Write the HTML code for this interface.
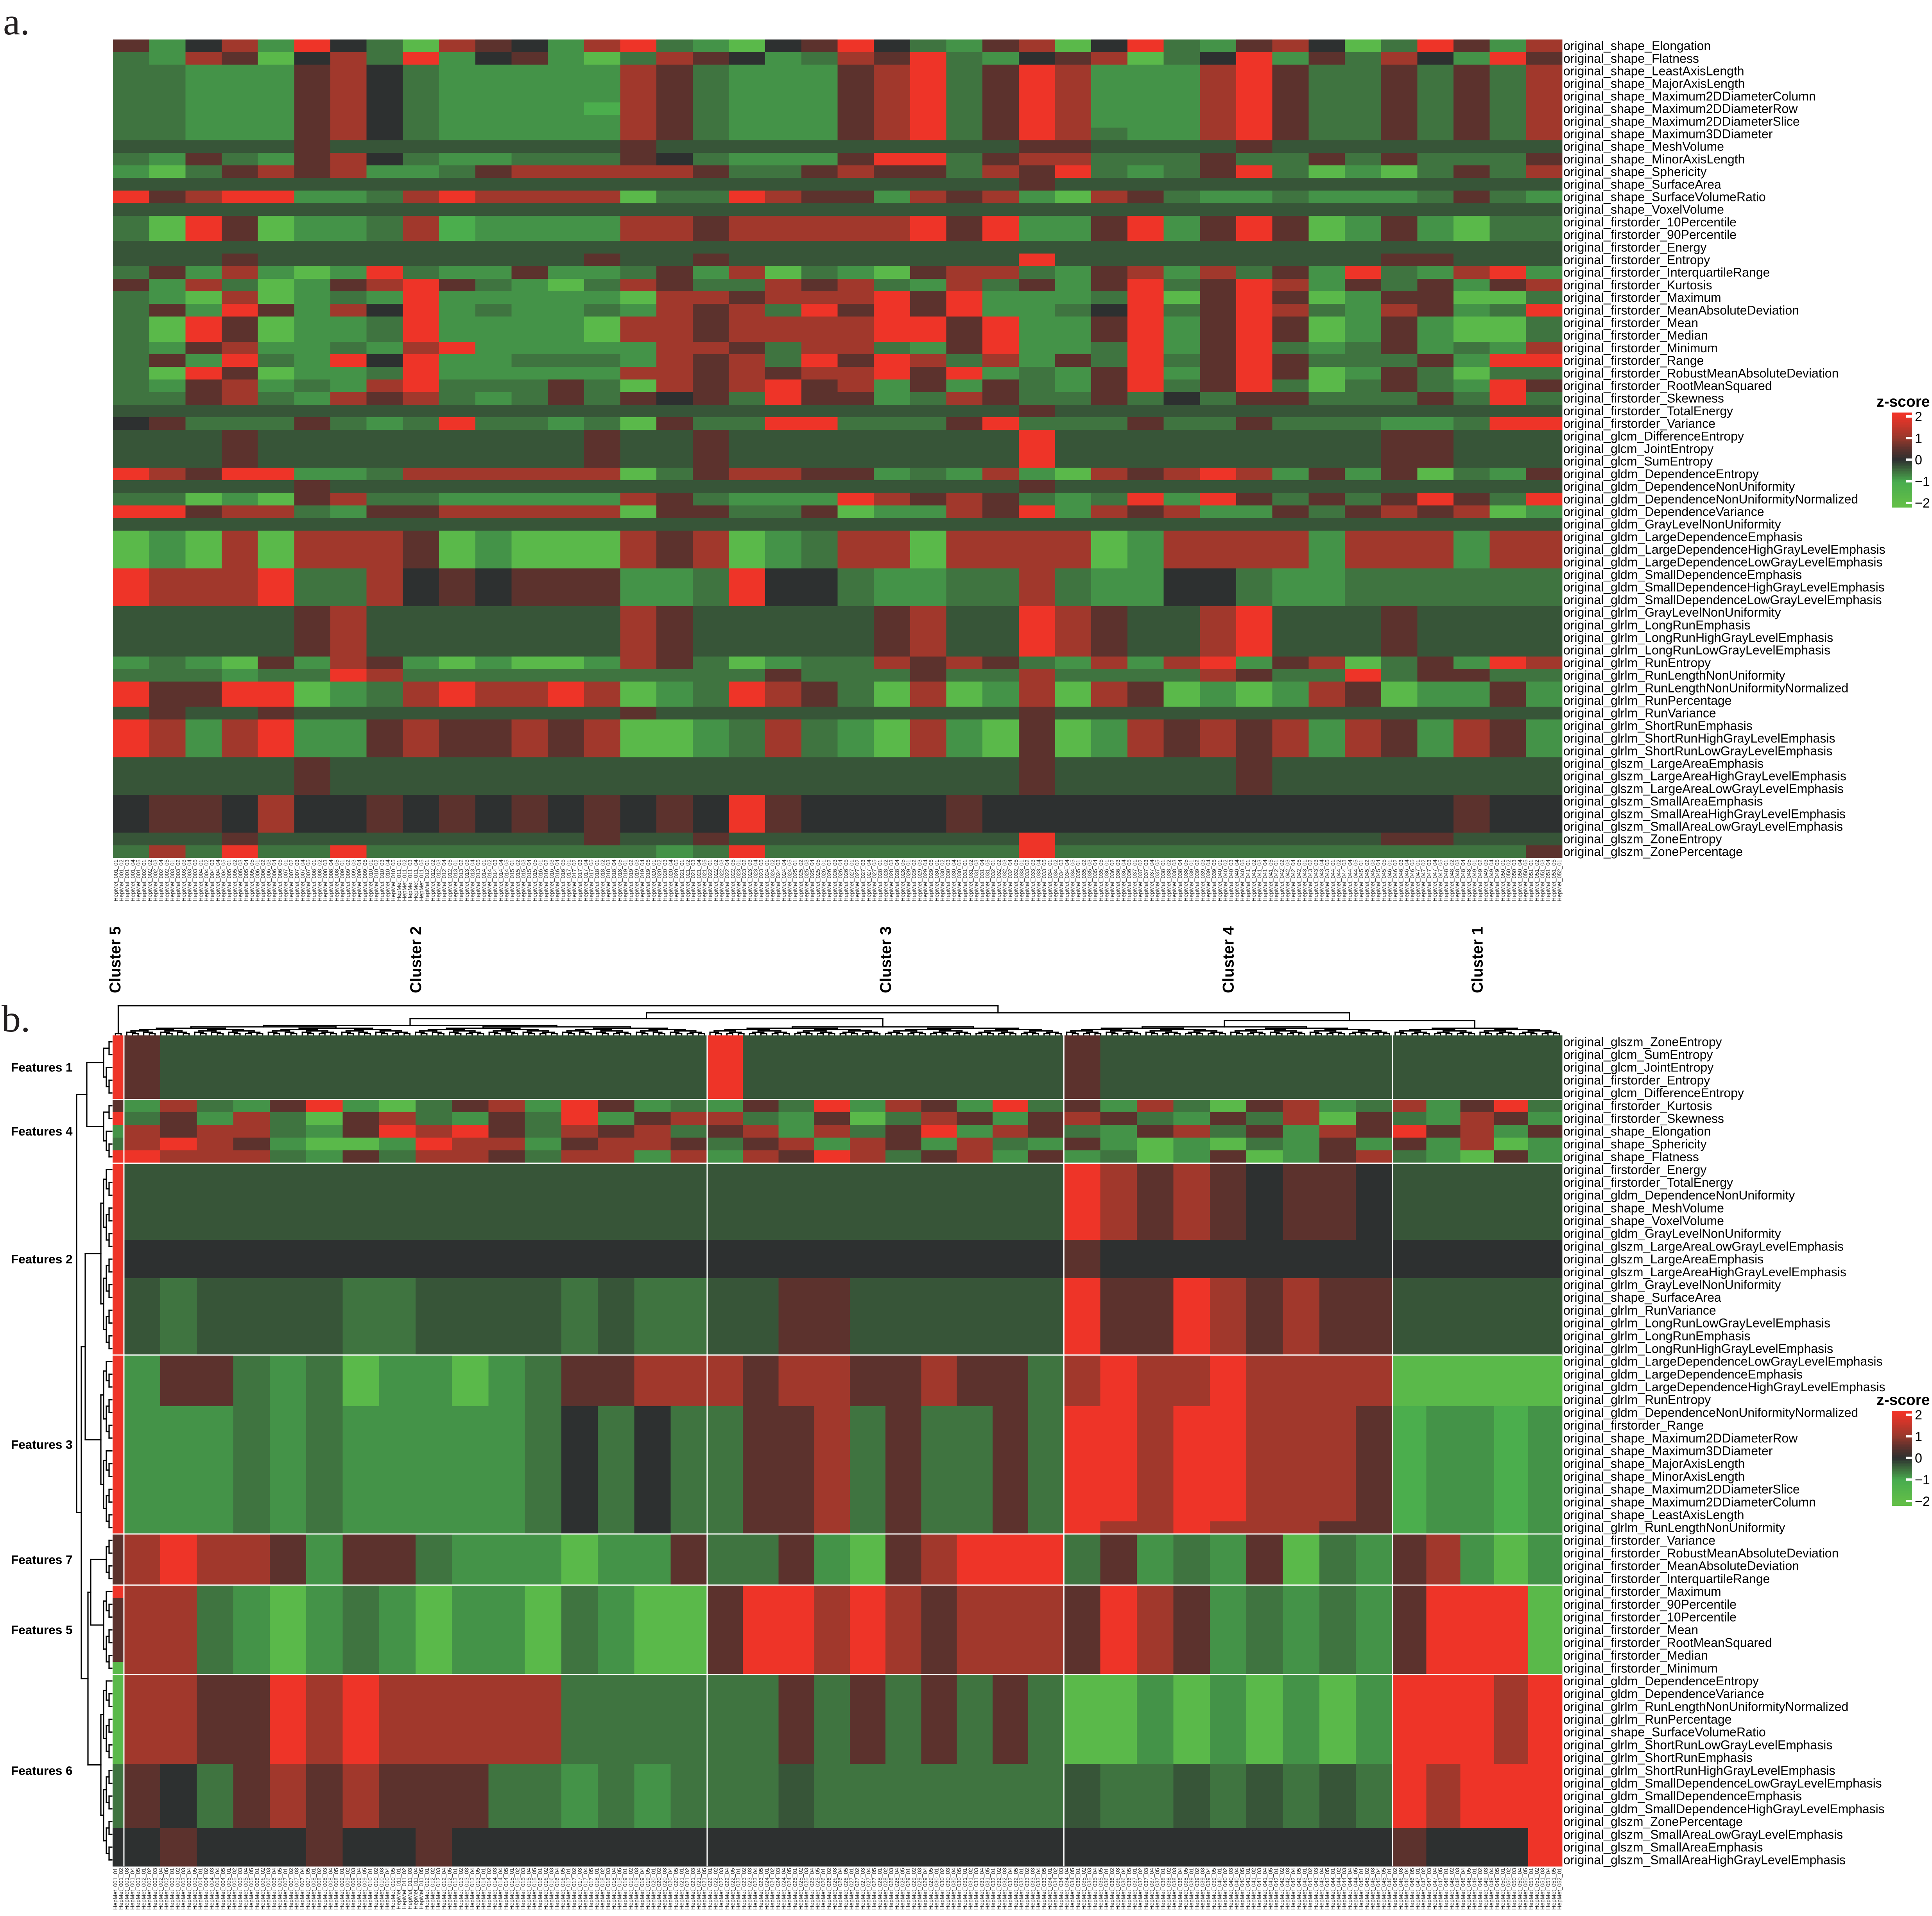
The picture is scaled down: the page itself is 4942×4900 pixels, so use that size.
<!DOCTYPE html>
<html><head><meta charset="utf-8"><title>Radiomic feature heatmaps</title>
<style>
html,body{margin:0;padding:0;background:#fff;}
svg{display:block;}
text{font-family:"Liberation Sans",sans-serif;}
</style></head>
<body>
<svg id="fig" xmlns="http://www.w3.org/2000/svg" width="4942" height="4900" viewBox="0 0 4942 4900">
<rect x="0" y="0" width="4942" height="4900" fill="#ffffff"/>
<text x="8" y="88" font-size="98" fill="#231f20" style="font-family:'Liberation Serif',serif">a.</text>
<text x="4" y="2638" font-size="98" fill="#231f20" style="font-family:'Liberation Serif',serif">b.</text>
<g id="heatA"></g>
<g id="labelsA"></g>
<g id="colLabA"></g>
<g id="clusterLab"></g>
<g id="dendCol"></g>
<g id="dendRow"></g>
<g id="heatB"></g>
<g id="labelsB"></g>
<g id="colLabB"></g>
<g id="featLab"></g>
<g id="legendA"></g>
<g id="legendB"></g>
</svg>
<script>
// ---------- data ----------
const valueCodes = "GgmhedkrR";
const valueLevels = [-1.7, -0.8, -1.1, -0.55, -0.3, 0, 0.5, 1.1, 2];
const legendTicks = [2, 1, 0, -1, -2];
const legendTickLabels = ["2", "1", "0", "\u22121", "\u22122"];

const rowLabelsA = ["original_shape_Elongation","original_shape_Flatness","original_shape_LeastAxisLength","original_shape_MajorAxisLength","original_shape_Maximum2DDiameterColumn","original_shape_Maximum2DDiameterRow","original_shape_Maximum2DDiameterSlice","original_shape_Maximum3DDiameter","original_shape_MeshVolume","original_shape_MinorAxisLength","original_shape_Sphericity","original_shape_SurfaceArea","original_shape_SurfaceVolumeRatio","original_shape_VoxelVolume","original_firstorder_10Percentile","original_firstorder_90Percentile","original_firstorder_Energy","original_firstorder_Entropy","original_firstorder_InterquartileRange","original_firstorder_Kurtosis","original_firstorder_Maximum","original_firstorder_MeanAbsoluteDeviation","original_firstorder_Mean","original_firstorder_Median","original_firstorder_Minimum","original_firstorder_Range","original_firstorder_RobustMeanAbsoluteDeviation","original_firstorder_RootMeanSquared","original_firstorder_Skewness","original_firstorder_TotalEnergy","original_firstorder_Variance","original_glcm_DifferenceEntropy","original_glcm_JointEntropy","original_glcm_SumEntropy","original_gldm_DependenceEntropy","original_gldm_DependenceNonUniformity","original_gldm_DependenceNonUniformityNormalized","original_gldm_DependenceVariance","original_gldm_GrayLevelNonUniformity","original_gldm_LargeDependenceEmphasis","original_gldm_LargeDependenceHighGrayLevelEmphasis","original_gldm_LargeDependenceLowGrayLevelEmphasis","original_gldm_SmallDependenceEmphasis","original_gldm_SmallDependenceHighGrayLevelEmphasis","original_gldm_SmallDependenceLowGrayLevelEmphasis","original_glrlm_GrayLevelNonUniformity","original_glrlm_LongRunEmphasis","original_glrlm_LongRunHighGrayLevelEmphasis","original_glrlm_LongRunLowGrayLevelEmphasis","original_glrlm_RunEntropy","original_glrlm_RunLengthNonUniformity","original_glrlm_RunLengthNonUniformityNormalized","original_glrlm_RunPercentage","original_glrlm_RunVariance","original_glrlm_ShortRunEmphasis","original_glrlm_ShortRunHighGrayLevelEmphasis","original_glrlm_ShortRunLowGrayLevelEmphasis","original_glszm_LargeAreaEmphasis","original_glszm_LargeAreaHighGrayLevelEmphasis","original_glszm_LargeAreaLowGrayLevelEmphasis","original_glszm_SmallAreaEmphasis","original_glszm_SmallAreaHighGrayLevelEmphasis","original_glszm_SmallAreaLowGrayLevelEmphasis","original_glszm_ZoneEntropy","original_glszm_ZonePercentage"];

const heatA = [
"kgdrgRdhGr kdgrRhgGdk RdhgkrGdRh gkrdGhRkgr",
"hgrkGdrhRg dkgGhrkdgh rkRhgdkrGh dRgkhrdgRk",
"hhgggkrdhg ggggrkhggg krRhkRrggg rRkhhkhkhr",
"hhgggkrdhg ggggrkhggg krRhkRrggg rRkhhkhkhr",
"hhgggkrdhg ggggrkhggg krRhkRrggg rRkhhkhkhr",
"hhgggkrdhg gggmrkhggg krRhkRrggg rRkhhkhkhr",
"hhgggkrdhg ggggrkhggg krRhkRrggg rRkhhkhkhr",
"hhgggkrdhg ggggrkhggg krRhkRrhgg rRkhhkhkhr",
"eeeeekeeee eeeekeeeee eeeeekkeee ekeeeeeeee",
"hgkhgkrdhg ghhhkdhggg kRRhkrrhhh khhkhkhhhk",
"gGhkrkrggh krrrrrkhhk rkkhrkRhgh kRhGgGhkhr",
"eeeeeeeeee eeeeeeeeee eeeeekeeee eeeeeeeeee",
"RkrRRgghrR rrrrGhhRrk kgrkrgGrkh gghggghkhg",
"eeeeeeeeee eeeeeeeeee eeeeeeeeee eeeeeeeeee",
"hGRkGgghrm ggggrrkrrr rrRkRggkRg kRkGgkgGhh",
"hGRkGgghrm ggggrrkrrr rrRkRggkRg kRkGgkgGhh",
"eeeeeeeeee eeeeeeeeee eeeeeeeeee eeeeeeeeee",
"eeekeeeeee eeekeekeee eeeeeReeee eeeeekkeee",
"hkgrgGgRhg gkgghkgrGh gGkrrhgkrg rhkgRhgrRg",
"kgrhGgkrRk hgGhrkhhrk rhgrhkgkRh kRrgkhkgkr",
"hgGrGghgRg ggggGrrkrr rRkRggghRG kRkGgkkGGh",
"hkgRkgrdRg hgghgrkrhR kRkRgghdRh kRrhgrkghR",
"hGRkGgghRg gggGrrkrrr rRRkRggkRg kRkGgkgGGh",
"hGRkGgghRg gggGrrkrrr rRRkRggkRg kRkGgkgGGh",
"hgkrgghgrR gggggrrkhr rhgkRgghRg kRhghkghgr",
"hkgRhgRdRg ghhhgrkrhR kRrhrgkhRh kRkhhhkgRR",
"hGRkGgghRg ggggrrkrkr rRkRghgkRg kRkGgkhGhh",
"hgkrghgrRh hhkhGrkrRk rgkgkhgkRh kRhGhkhgRk",
"hhkrhgrkrh ghkhkdkhRk kghrkhhkhd hkkhhhkhRh",
"eeeeeeeeee eeeeeeeeee eeeeekeeee eeeeeeeeee",
"dkhhhkhghR hhghGkhhRR hhhkRhhhkh hkhhhgghRR",
"eeekeeeeee eeekeekeee eeeeeReeee eeeeekkeee",
"eeekeeeeee eeekeekeee eeeeeReeee eeeeekkeee",
"eeekeeeeee eeekeekeee eeeeeReeee eeeeekkeee",
"RrkRRgghrr rrrrGhkrrk kghgrgGrkr RrgkgkGhgk",
"eeeeekeeee eeeeeeeeee eeeeekeeee eeeeeeeeee",
"hhGgGkrhhg ggggrkhggg RrkrkhghRg RkhkhkRkhR",
"RRkrrhgkkr rrrrGkkhhk GggrkRgrkr ggkhkrkrGg",
"eeeeeeeeee eeeeeeeeee eeeeeeeeee eeeeeeeeee",
"GgGrGrrrkG gGGGrkrGgh rrGrrrrGgr rrrgrrrgrr",
"GgGrGrrrkG gGGGrkrGgh rrGrrrrGgr rrrgrrrgrr",
"GgGrGrrrkG gGGGrkrGgh rrGrrrrGgr rrrgrrrgrr",
"RrrrRhhrdk dkkkgghRdd hgghhrhggd dhgghhhhhh",
"RrrrRhhrdk dkkkgghRdd hgghhrhggd dhgghhhhhh",
"RrrrRhhrdk dkkkgghRdd hgghhrhggd dhgghhhhhh",
"eeeeekreee eeeerkeeee ekreeRrkee rReeekeeee",
"eeeeekreee eeeerkeeee ekreeRrkee rReeekeeee",
"eeeeekreee eeeerkeeee ekreeRrkee rReeekeeee",
"eeeeekreee eeeerkeeee ekreeRrkee rReeekeeee",
"ghgGkgrkgG gGGgrkhGgh hrkrkhgrgr RgkrGhkgRr",
"hhhghhRrhh hhhhhhhhkh hhkhhrhhhh rkhhRhkkhh",
"RkkRRGghrR rrRrGghRrk hGrGgrGrkG gGgrkGggkg",
"RkkRRGghrR rrRrGghRrk hGrGgrGrkG gGgrkGggkg",
"ekeekeeeee eeeekeeeee eeeeekeeee eeeeeeeeee",
"RrgrRggkrk krkrGGghrh gGrgGkGgrk rkrgrkgrkg",
"RrgrRggkrk krkrGGghrh gGrgGkGgrk rkrgrkgrkg",
"RrgrRggkrk krkrGGghrh gGrgGkGgrk rkrgrkgrkg",
"eeeeekeeee eeeeeeeeee eeeeekeeee ekeeeeeeee",
"eeeeekeeee eeeeeeeeee eeeeekeeee ekeeeeeeee",
"eeeeekeeee eeeeeeeeee eeeeekeeee ekeeeeeeee",
"dkkdrddkdk dkdkdkdRkd dddkdddddd dddddddkdd",
"dkkdrddkdk dkdkdkdRkd dddkdddddd dddddddkdd",
"dkkdrddkdk dkdkdkdRkd dddkdddddd dddddddkdd",
"eeekeeeeee eeekeekeee eeeeeReeee eeeeekkeee",
"hrhRhhRhhh hhhhhghRhh hhhhhRhhhh hhhhhhhhhk"
];

const rowLabelsB = ["original_glszm_ZoneEntropy","original_glcm_SumEntropy","original_glcm_JointEntropy","original_firstorder_Entropy","original_glcm_DifferenceEntropy","original_firstorder_Kurtosis","original_firstorder_Skewness","original_shape_Elongation","original_shape_Sphericity","original_shape_Flatness","original_firstorder_Energy","original_firstorder_TotalEnergy","original_gldm_DependenceNonUniformity","original_shape_MeshVolume","original_shape_VoxelVolume","original_gldm_GrayLevelNonUniformity","original_glszm_LargeAreaLowGrayLevelEmphasis","original_glszm_LargeAreaEmphasis","original_glszm_LargeAreaHighGrayLevelEmphasis","original_glrlm_GrayLevelNonUniformity","original_shape_SurfaceArea","original_glrlm_RunVariance","original_glrlm_LongRunLowGrayLevelEmphasis","original_glrlm_LongRunEmphasis","original_glrlm_LongRunHighGrayLevelEmphasis","original_gldm_LargeDependenceLowGrayLevelEmphasis","original_gldm_LargeDependenceEmphasis","original_gldm_LargeDependenceHighGrayLevelEmphasis","original_glrlm_RunEntropy","original_gldm_DependenceNonUniformityNormalized","original_firstorder_Range","original_shape_Maximum2DDiameterRow","original_shape_Maximum3DDiameter","original_shape_MajorAxisLength","original_shape_MinorAxisLength","original_shape_Maximum2DDiameterSlice","original_shape_Maximum2DDiameterColumn","original_shape_LeastAxisLength","original_glrlm_RunLengthNonUniformity","original_firstorder_Variance","original_firstorder_RobustMeanAbsoluteDeviation","original_firstorder_MeanAbsoluteDeviation","original_firstorder_InterquartileRange","original_firstorder_Maximum","original_firstorder_90Percentile","original_firstorder_10Percentile","original_firstorder_Mean","original_firstorder_RootMeanSquared","original_firstorder_Median","original_firstorder_Minimum","original_gldm_DependenceEntropy","original_gldm_DependenceVariance","original_glrlm_RunLengthNonUniformityNormalized","original_glrlm_RunPercentage","original_shape_SurfaceVolumeRatio","original_glrlm_ShortRunLowGrayLevelEmphasis","original_glrlm_ShortRunEmphasis","original_glrlm_ShortRunHighGrayLevelEmphasis","original_gldm_SmallDependenceLowGrayLevelEmphasis","original_gldm_SmallDependenceEmphasis","original_gldm_SmallDependenceHighGrayLevelEmphasis","original_glszm_ZonePercentage","original_glszm_SmallAreaLowGrayLevelEmphasis","original_glszm_SmallAreaEmphasis","original_glszm_SmallAreaHighGrayLevelEmphasis"];

const clusterNames = ["Cluster 5","Cluster 2","Cluster 3","Cluster 4","Cluster 1"];
const clusterSamples = [2, 103, 63, 58, 30];
const clusterSegments = [1, 16, 10, 9, 5];
const featureGroupNames = ["Features 1","Features 4","Features 2","Features 3","Features 7","Features 5","Features 6"];
const featureGroupSizes = [5, 5, 15, 14, 4, 7, 15];

const heatB = [
"R keeeeeeeeeeeeeee Reeeeeeeee keeeeeeee eeeee",
"R keeeeeeeeeeeeeee Reeeeeeeee keeeeeeee eeeee",
"R keeeeeeeeeeeeeee Reeeeeeeee keeeeeeee eeeee",
"R keeeeeeeeeeeeeee Reeeeeeeee keeeeeeee eeeee",
"R keeeeeeeeeeeeeee Reeeeeeeee keeeeeeee eeeee",
"k grhgkRgGhkrgRkgh gkhRgrkgRh kgrhGkrgh rgkRh",
"R hkgrhGkrhgkhRgkr rhgkGhrkgk rkhgkhrGk hgrkg",
"g rkrrhgkRrRkhrkrh krgrhkRgrk hgkrhkgrk Rkrgk",
"h rRrkgGGgRrrgkrrk hkrgrkgrhg kgGgGhgkg kgrGg",
"R Rrrrhgkhrrkhrrgr grkRrhkrgk ghGgkGgkr hgGkg",
"R eeeeeeeeeeeeeeee eeeeeeeeee Rrkrkdkkd eeeee",
"R eeeeeeeeeeeeeeee eeeeeeeeee Rrkrkdkkd eeeee",
"R eeeeeeeeeeeeeeee eeeeeeeeee Rrkrkdkkd eeeee",
"R eeeeeeeeeeeeeeee eeeeeeeeee Rrkrkdkkd eeeee",
"R eeeeeeeeeeeeeeee eeeeeeeeee Rrkrkdkkd eeeee",
"R eeeeeeeeeeeeeeee eeeeeeeeee Rrkrkdkkd eeeee",
"R dddddddddddddddd dddddddddd kdddddddd ddddd",
"R dddddddddddddddd dddddddddd kdddddddd ddddd",
"R dddddddddddddddd dddddddddd kdddddddd ddddd",
"R eheeeehheeeehehh eekkeeeeee RkkRrkrkk eeeee",
"R eheeeehheeeehehh eekkeeeeee RkkRrkrkk eeeee",
"R eheeeehheeeehehh eekkeeeeee RkkRrkrkk eeeee",
"R eheeeehheeeehehh eekkeeeeee RkkRrkrkk eeeee",
"R eheeeehheeeehehh eekkeeeeee RkkRrkrkk eeeee",
"R eheeeehheeeehehh eekkeeeeee RkkRrkrkk eeeee",
"R gkkhghGggGghkkrr rkrrkkrkkh rRrrRrrrr GGGGG",
"R gkkhghGggGghkkrr rkrrkkrkkh rRrrRrrrr GGGGG",
"R gkkhghGggGghkkrr rkrrkkrkkh rRrrRrrrr GGGGG",
"R gkkhghGggGghkkrr rkrrkkrkkh rRrrRrrrr GGGGG",
"R ggghghggggghdhdh hkkrhkhhkh RRrRRrrrk mggmg",
"R ggghghggggghdhdh hkkrhkhhkh RRrRRrrrk mggmg",
"R ggghghggggghdhdh hkkrhkhhkh RRrRRrrrk mggmg",
"R ggghghggggghdhdh hkkrhkhhkh RRrRRrrrk mggmg",
"R ggghghggggghdhdh hkkrhkhhkh RRrRRrrrk mggmg",
"R ggghghggggghdhdh hkkrhkhhkh RRrRRrrrk mggmg",
"R ggghghggggghdhdh hkkrhkhhkh RRrRRrrrk mggmg",
"R ggghghggggghdhdh hkkrhkhhkh RRrRRrrrk mggmg",
"R ggghghggggghdhdh hkkrhkhhkh RRrRRrrrk mggmg",
"R ggghghggggghdhdh hkkrhkhhkh RrrRrrrkk mggmg",
"k rRrrkgkkhgggGggk hhkgGkrRRR hkghgkGhg krgGg",
"k rRrrkgkkhgggGggk hhkgGkrRRR hkghgkGhg krgGg",
"k rRrrkgkkhgggGggk hhkgGkrRRR hkghgkGhg krgGg",
"k rRrrkgkkhgggGggk hhkgGkrRRR hkghgkGhg krgGg",
"R rrhgGghgGggGhgGG kRRrRrkrrr kRrkghghg kRRRG",
"k rrhgGghgGggGhgGG kRRrRrkrrr kRrkghghg kRRRG",
"k rrhgGghgGggGhgGG kRRrRrkrrr kRrkghghg kRRRG",
"k rrhgGghgGggGhgGG kRRrRrkrrr kRrkghghg kRRRG",
"k rrhgGghgGggGhgGG kRRrRrkrrr kRrkghghg kRRRG",
"k rrhgGghgGggGhgGG kRRrRrkrrr kRrkghghg kRRRG",
"G rrhgGghgGggGhgGG kRRrRrkrrr kRrkghghg kRRRG",
"G rrkkRrRrrrrrhhhh hhkhkhkhkh GGgGgGgGg RRRrR",
"G rrkkRrRrrrrrhhhh hhkhkhkhkh GGgGgGgGg RRRrR",
"G rrkkRrRrrrrrhhhh hhkhkhkhkh GGgGgGgGg RRRrR",
"G rrkkRrRrrrrrhhhh hhkhkhkhkh GGgGgGgGg RRRrR",
"G rrkkRrRrrrrrhhhh hhkhkhkhkh GGgGgGgGg RRRrR",
"G rrkkRrRrrrrrhhhh hhkhkhkhkh GGgGgGgGg RRRrR",
"G rrkkRrRrrrrrhhhh hhkhkhkhkh GGgGgGgGg RRRrR",
"h kdhkrkrkkkhhghgh hhehhhhhhh ehheheheh RrRRR",
"h kdhkrkrkkkhhghgh hhehhhhhhh ehheheheh RrRRR",
"h kdhkrkrkkkhhghgh hhehhhhhhh ehheheheh RrRRR",
"h kdhkrkrkkkhhghgh hhehhhhhhh ehheheheh RrRRR",
"h kdhkrkrkkkhhghgh hhehhhhhhh ehheheheh RrRRR",
"d dkdddkddkddddddd dddddddddd ddddddddd kdddR",
"d dkdddkddkddddddd dddddddddd ddddddddd kdddR",
"d dkdddkddkddddddd dddddddddd ddddddddd kdddR"
];

// ---------- scales ----------
const NS = "http://www.w3.org/2000/svg";
const A = {x0: 289, x1: 3996, y0: 101, y1: 2194};
const B = {x0: 288, x1: 3996, y0: 2648, y1: 4773};
const totalSamples = clusterSamples.reduce((a, b) => a + b, 0);
const xA = s => A.x0 + (A.x1 - A.x0) * s / totalSamples;
const yA = r => A.y0 + (A.y1 - A.y0) * r / rowLabelsA.length;
const xB = s => B.x0 + (B.x1 - B.x0) * s / totalSamples;
const yB = r => B.y0 + (B.y1 - B.y0) * r / rowLabelsB.length;

const stops = [[-2,[98,190,72]],[-1,[72,172,78]],[-0.5,[62,110,62]],[0,[45,48,48]],[0.5,[92,50,45]],[1,[152,56,44]],[2,[238,52,40]]];
function color(v){
  v = Math.max(-2, Math.min(2, v));
  for (let i = 0; i < stops.length - 1; i++){
    const [a, ca] = stops[i], [b, cb] = stops[i+1];
    if (v <= b){
      const t = (v - a) / (b - a);
      const c = ca.map((x, j) => Math.round(x + (cb[j] - x) * t));
      return "rgb(" + c.join(",") + ")";
    }
  }
  return "rgb(238,52,40)";
}
const codeValue = ch => valueLevels[valueCodes.indexOf(ch)];

function mk(tag, attrs, parent){
  const el = document.createElementNS(NS, tag);
  for (const k in attrs) el.setAttribute(k, attrs[k]);
  parent.appendChild(el);
  return el;
}

// ---------- heatmap A ----------
const gA = document.getElementById("heatA");
heatA.forEach((row, r) => {
  const codes = row.replace(/ /g, "");
  const n = codes.length;
  for (let k = 0; k < n; k++){
    const s0 = k * totalSamples / n, s1 = (k + 1) * totalSamples / n;
    const rc = mk("rect", {x: xA(s0), y: yA(r), width: xA(s1) - xA(s0) + 0.6, height: yA(r+1) - yA(r) + 0.6, fill: color(codeValue(codes[k])), "shape-rendering": "crispEdges"}, gA);
    
    
  }
});
const lA = document.getElementById("labelsA");
rowLabelsA.forEach((t, r) => {
  const tx = mk("text", {x: 3999, y: (yA(r) + yA(r+1)) / 2 + 11, "font-size": 32, fill: "#000"}, lA);
  tx.textContent = t;
  
  
});

// ---------- heatmap B ----------
const gB = document.getElementById("heatB");
heatB.forEach((row, r) => {
  const parts = row.split(" ");
  let start = 0;
  parts.forEach((codes, c) => {
    const ns = clusterSamples[c], nseg = codes.length;
    for (let k = 0; k < nseg; k++){
      const s0 = start + k * ns / nseg, s1 = start + (k + 1) * ns / nseg;
      const rc = mk("rect", {x: xB(s0), y: yB(r), width: xB(s1) - xB(s0) + 0.6, height: yB(r+1) - yB(r) + 0.6, fill: color(codeValue(codes[k])), "shape-rendering": "crispEdges"}, gB);
      
      
    }
    start += ns;
  });
});
{
  let s = 0;
  for (let c = 0; c < clusterSamples.length - 1; c++){
    s += clusterSamples[c];
    const ln = mk("line", {x1: xB(s), x2: xB(s), y1: B.y0, y2: B.y1, stroke: "#fff", "stroke-width": 3}, gB);
    
    
  }
  let r = 0;
  for (let g = 0; g < featureGroupSizes.length - 1; g++){
    r += featureGroupSizes[g];
    const ln = mk("line", {x1: B.x0, x2: B.x1, y1: yB(r), y2: yB(r), stroke: "#fff", "stroke-width": 3}, gB);
    
    
  }
}
const lB = document.getElementById("labelsB");
rowLabelsB.forEach((t, r) => {
  const tx = mk("text", {x: 3999, y: (yB(r) + yB(r+1)) / 2 + 11, "font-size": 32, fill: "#000"}, lB);
  tx.textContent = t;
  
  
});

const fL = document.getElementById("featLab");
{
  let r = 0;
  featureGroupNames.forEach((name, g) => {
    const mid = (yB(r) + yB(r + featureGroupSizes[g])) / 2;
    const tx = mk("text", {x: 28, y: mid + 11, "font-size": 31.5, "font-weight": "bold", fill: "#000"}, fL);
    tx.textContent = name;
    
    
    r += featureGroupSizes[g];
  });
}

const cL = document.getElementById("clusterLab");
{
  let s = 0;
  clusterNames.forEach((name, c) => {
    let cx = xB(s + clusterSamples[c] / 2);
    if (c === 0) cx = 294;
    const tx = mk("text", {x: 0, y: 0, "font-size": 40, "font-weight": "bold", fill: "#000", transform: "translate(" + (cx + 14) + ",2540) rotate(-90)"}, cL);
    tx.textContent = name;
    
    
    s += clusterSamples[c];
  });
}

function colLabels(gid, xf, yTop){
  const g = document.getElementById(gid);
  for (let i = 0; i < totalSamples; i++){
    const pid = String(Math.floor(i / 5) + 1).padStart(3, "0");
    const sid = String(i % 5 + 1).padStart(2, "0");
    const cx = (xf(i) + xf(i + 1)) / 2;
    const tx = mk("text", {x: 0, y: 0, "font-size": 14.5, fill: "#333", "text-anchor": "end", transform: "translate(" + (cx + 5) + "," + yTop + ") rotate(-90)"}, g);
    tx.textContent = "HepMet_" + pid + "_" + sid;
    
    
  }
}
colLabels("colLabA", xA, A.y1 + 4);
colLabels("colLabB", xB, B.y1 + 4);

// ---------- dendrograms ----------
const dR = document.getElementById("dendRow");
const dC = document.getElementById("dendCol");
function seg(g, x1, y1, x2, y2, name){
  const ln = mk("line", {x1, y1, x2, y2, stroke: "#000", "stroke-width": 3.2, "stroke-linecap": "square"}, g);
  
  
}
function mergeRow(a, b, x){
  seg(dR, x, a.y, x, b.y, 'row-dendrogram-branch');
  seg(dR, x, a.y, a.x, a.y, 'row-dendrogram-branch');
  seg(dR, x, b.y, b.x, b.y, 'row-dendrogram-branch');
  return {x, y: (a.y + b.y) / 2};
}
function rowTree(lo, hi){
  if (hi - lo === 1) return {x: B.x0 - 2, y: (yB(lo) + yB(lo + 1)) / 2};
  const mid = Math.floor((lo + hi) / 2);
  const a = rowTree(lo, mid), b = rowTree(mid, hi);
  return mergeRow(a, b, Math.min(a.x, b.x) - 7);
}
{
  const nodes = [];
  let r = 0;
  featureGroupSizes.forEach(n => { nodes.push(rowTree(r, r + n)); r += n; });
  const f14 = mergeRow(nodes[0], nodes[1], 222);
  const f23 = mergeRow(nodes[2], nodes[3], 218);
  const f75 = mergeRow(nodes[4], nodes[5], 232);
  const f756 = mergeRow(f75, nodes[6], 225);
  const low = mergeRow(f23, f756, 208);
  mergeRow(f14, low, 196);
}
function mergeCol(a, b, y){
  seg(dC, a.x, y, b.x, y, 'column-dendrogram-branch');
  seg(dC, a.x, y, a.x, a.y, 'column-dendrogram-branch');
  seg(dC, b.x, y, b.x, b.y, 'column-dendrogram-branch');
  return {x: (a.x + b.x) / 2, y};
}
function colTree(lo, hi){
  if (hi - lo === 1) return {x: (xB(lo) + xB(lo + 1)) / 2, y: B.y0 - 1};
  const mid = Math.floor((lo + hi) / 2);
  const a = colTree(lo, mid), b = colTree(mid, hi);
  return mergeCol(a, b, Math.min(a.y, b.y) - 3.5);
}
{
  const nodes = [];
  let s = 0;
  clusterSamples.forEach(n => { nodes.push(colTree(s, s + n)); s += n; });
  const c23 = mergeCol(nodes[1], nodes[2], 2605);
  const c41 = mergeCol(nodes[3], nodes[4], 2610);
  const right = mergeCol(c23, c41, 2590);
  mergeCol(nodes[0], right, 2572);
}

// ---------- colour bars ----------
function colorbar(gid, top){
  const g = document.getElementById(gid);
  const t = mk("text", {x: 4800, y: top - 15, "font-size": 39, "font-weight": "bold", fill: "#000"}, g);
  t.textContent = "z-score";
  
  
  const bx = 4839, bw = 52, bh = 242;
  const steps = 60;
  for (let i = 0; i < steps; i++){
    const v = 2.15 - 4.3 * (i + 0.5) / steps;
    const rc = mk("rect", {x: bx, y: top + bh * i / steps, width: bw, height: bh / steps + 0.8, fill: color(v), "shape-rendering": "crispEdges"}, g);
    
    
  }
  const yv = v => top + 10 + (2 - v) / 4 * (bh - 21);
  legendTicks.forEach((v, i) => {
    const tk = mk("rect", {x: bx + 37, y: yv(v) - 3, width: 14, height: 6, fill: "#fff"}, g);
    
    
    const lb = mk("text", {x: 4898, y: yv(v) + 12, "font-size": 34, fill: "#000"}, g);
    lb.textContent = legendTickLabels[i];
    
    
  });
}
colorbar("legendA", 1055);
colorbar("legendB", 3608);
</script>
</body></html>
